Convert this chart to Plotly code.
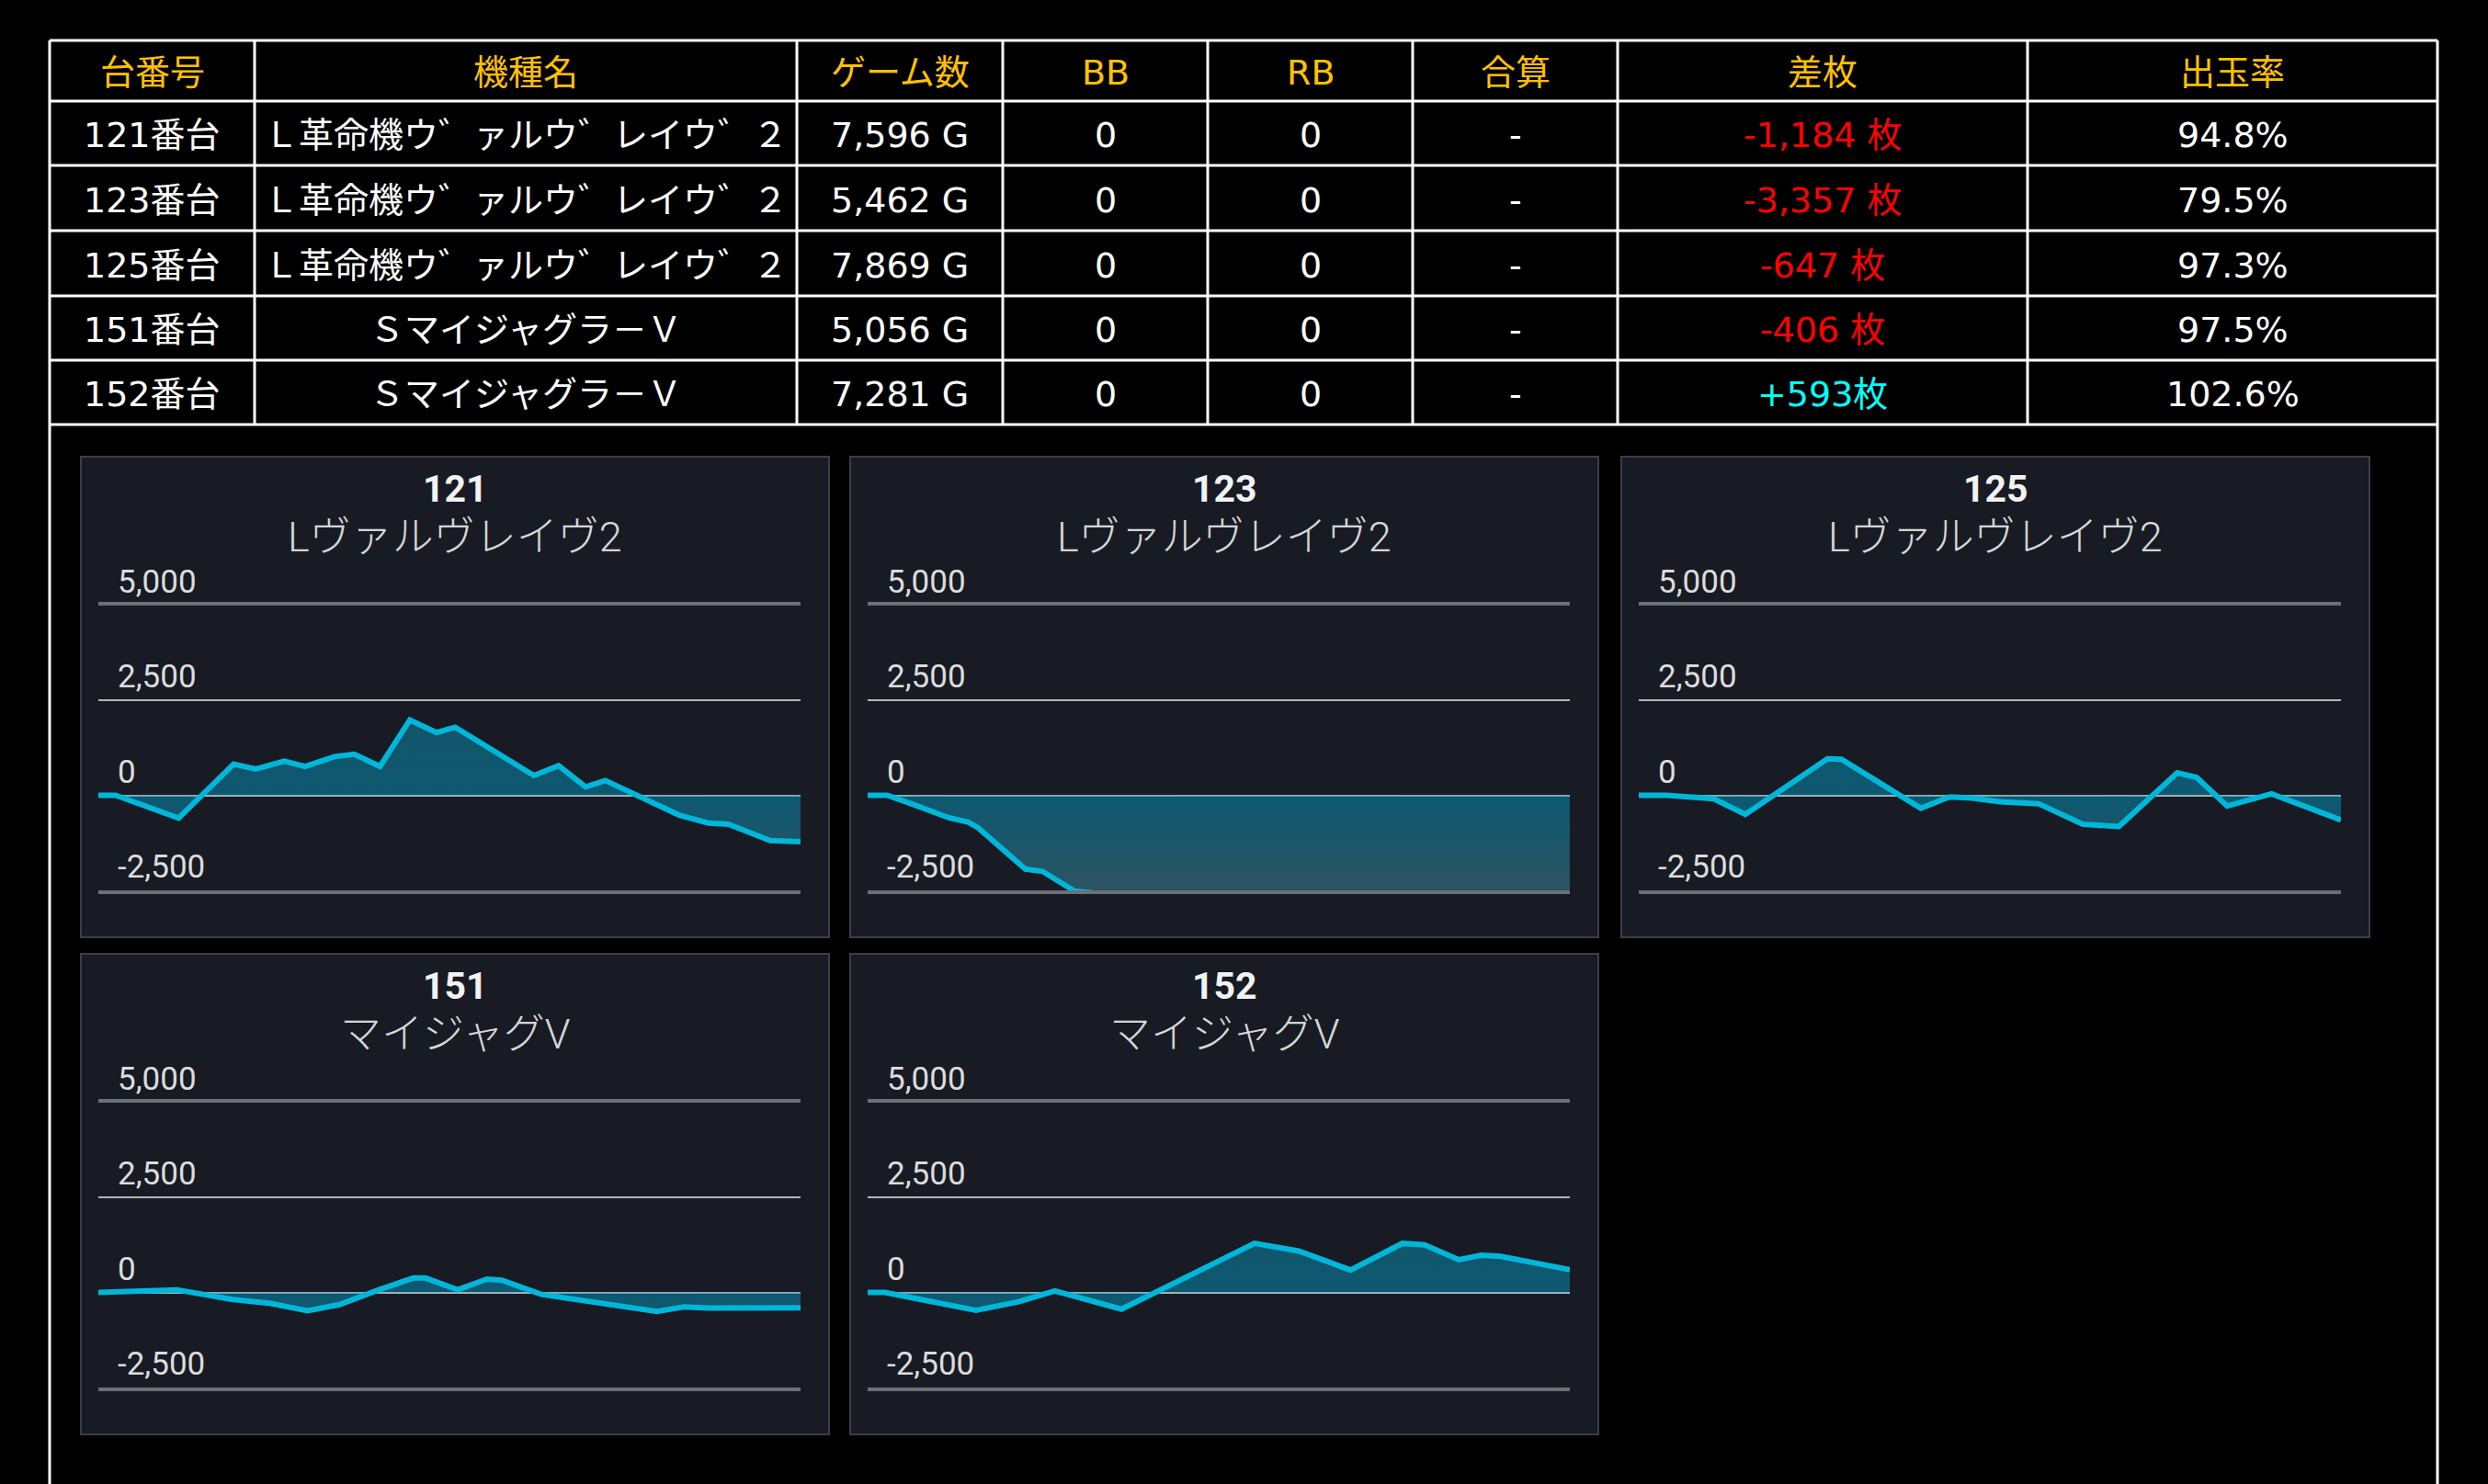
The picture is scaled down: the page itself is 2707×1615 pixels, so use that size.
import plotly.graph_objects as go

W, H = 2707, 1615

# ---------------- table data ----------------
headers = ["台番号", "機種名", "ゲーム数", "BB", "RB", "合算", "差枚", "出玉率"]
machine_no = ["121番台", "123番台", "125番台", "151番台", "152番台"]
machine_name = ["Ｌ革命機ウ゛ァルウ゛レイウ゛２", "Ｌ革命機ウ゛ァルウ゛レイウ゛２", "Ｌ革命機ウ゛ァルウ゛レイウ゛２",
                "Ｓマイジャグラ－Ｖ", "Ｓマイジャグラ－Ｖ"]
game_text = ["7,596 G", "5,462 G", "7,869 G", "5,056 G", "7,281 G"]
bb_count = ["0", "0", "0", "0", "0"]
rb_count = ["0", "0", "0", "0", "0"]
combined = ["-", "-", "-", "-", "-"]
diff_value = [-1184, -3357, -647, -406, 593]
diff_text = ["-1,184 枚", "-3,357 枚", "-647 枚", "-406 枚", "+593枚"]
payout = ["94.8%", "79.5%", "97.3%", "97.5%", "102.6%"]

# ---------------- chart data ----------------
panel_ids = ["121", "123", "125", "151", "152"]
panel_names = ["Lヴァルヴレイヴ2", "Lヴァルヴレイヴ2", "Lヴァルヴレイヴ2", "マイジャグV", "マイジャグV"]
total_games = [7596, 5462, 7869, 5056, 7281]

x121 = [0, 186, 868, 1464, 1704, 2013, 2236, 2556, 2769, 3046, 3370, 3658, 3860, 4712, 4978, 5271, 5484,
        6283, 6602, 6815, 7268, 7428, 7596]
y121 = [0, 0, -600, 820, 690, 900, 760, 1020, 1080, 760, 1980, 1650, 1790, 520, 780, 220, 390,
        -520, -730, -760, -1190, -1220, -1220]

x123 = [0, 153, 402, 632, 786, 862, 1227, 1361, 1610, 2600, 3800, 4700, 5462]
y123 = [0, 0, -300, -590, -710, -860, -1940, -2000, -2520, -2850, -3100, -3250, -3357]

x125 = [0, 311, 840, 1194, 2115, 2270, 3160, 3483, 3733, 4043, 4479, 4976, 5381, 6034, 6252, 6594, 7091, 7869]
y125 = [0, 0, -90, -500, 960, 950, -340, -40, -70, -170, -220, -760, -820, 590, 470, -280, 40, -650]

x151 = [0, 213, 567, 957, 1240, 1506, 1736, 2020, 2268, 2356, 2587, 2799, 2905, 3189, 3366, 4021, 4216, 4393, 5056]
y151 = [0, 20, 70, -180, -290, -480, -320, 70, 380, 380, 70, 350, 320, -50, -140, -500, -380, -410, -406]

x152 = [0, 179, 1124, 1558, 1942, 2632, 4011, 4471, 5007, 5544, 5774, 6131, 6361, 6566, 7281]
y152 = [0, 0, -470, -250, 40, -440, 1290, 1090, 590, 1290, 1250, 860, 980, 950, 600]

series_x = [x121, x123, x125, x151, x152]
series_y = [y121, y123, y125, y151, y152]

y_ticks = [5000, 2500, 0, -2500]
y_tick_text = ["5,000", "2,500", "0", "-2,500"]
y_min, y_max = -2500, 5000

# ---------------- layout geometry (pixels) ----------------
def fx(p):
    return p / W


def fy(p):
    return 1 - p / H


col_edges = [54, 277, 867, 1091, 1314, 1537, 1760, 2206, 2652]
row_edges = [44, 110, 180, 251, 322, 392, 462]

panel_left = [88, 925, 1764, 88, 925]
panel_top = [497, 497, 497, 1038, 1038]
PANEL_W, PANEL_H = 814, 523
PLOT_L, PLOT_R = 19, 783
PLOT_T, PLOT_B = 161.6, 472

TABLE_FONT = "DejaVu Sans, Noto Sans CJK JP"
CHART_FONT = "Roboto, Noto Sans CJK JP"

fig = go.Figure()
shapes = []
annotations = []

# ---------------- table ----------------
LINE = dict(color="#ffffff", width=3)
for yv in row_edges:
    shapes.append(dict(type="line", xref="paper", yref="paper",
                       x0=fx(col_edges[0]), x1=fx(col_edges[-1]), y0=fy(yv), y1=fy(yv), line=LINE))
for i, xv in enumerate(col_edges):
    bottom = H + 5 if i in (0, len(col_edges) - 1) else row_edges[-1]
    shapes.append(dict(type="line", xref="paper", yref="paper",
                       x0=fx(xv), x1=fx(xv), y0=fy(row_edges[0]), y1=fy(bottom), line=LINE))

col_centers = [(col_edges[i] + col_edges[i + 1]) / 2 for i in range(len(col_edges) - 1)]
row_centers = [(row_edges[i] + row_edges[i + 1]) / 2 + 2 for i in range(len(row_edges) - 1)]

for c, h in enumerate(headers):
    annotations.append(dict(text=h, xref="paper", yref="paper", x=fx(col_centers[c]), y=fy(row_centers[0]),
                            xanchor="center", yanchor="middle", showarrow=False,
                            font=dict(family=TABLE_FONT, size=38, color="#FFC000")))

columns = [machine_no, machine_name, game_text, bb_count, rb_count, combined, diff_text, payout]
for r in range(len(machine_no)):
    for c, col in enumerate(columns):
        color = "#ffffff"
        if c == 6:
            color = "#ff0000" if diff_value[r] < 0 else "#00ffff"
        annotations.append(dict(text=col[r], xref="paper", yref="paper",
                                x=fx(col_centers[c]), y=fy(row_centers[r + 1]),
                                xanchor="center", yanchor="middle", showarrow=False,
                                font=dict(family=TABLE_FONT, size=38, color=color)))

# ---------------- chart panels ----------------
layout_axes = {}
for i in range(len(panel_ids)):
    n = "" if i == 0 else str(i + 1)
    L, T = panel_left[i], panel_top[i]
    shapes.append(dict(type="rect", xref="paper", yref="paper", layer="below",
                       x0=fx(L), x1=fx(L + PANEL_W), y0=fy(T + PANEL_H), y1=fy(T),
                       fillcolor="#181b24", line=dict(color="#3b3e47", width=2)))
    cx = L + PANEL_W / 2
    annotations.append(dict(text="<b>" + panel_ids[i] + "</b>", xref="paper", yref="paper",
                            x=fx(cx), y=fy(T + 35), xanchor="center", yanchor="middle", showarrow=False,
                            font=dict(family=CHART_FONT, size=41, color="#f2f2f2")))
    annotations.append(dict(text=panel_names[i], xref="paper", yref="paper",
                            x=fx(cx), y=fy(T + 87), xanchor="center", yanchor="middle", showarrow=False,
                            font=dict(family=CHART_FONT, size=45, color="#d6d6d6", weight=300)))

    layout_axes["xaxis" + n] = dict(domain=[fx(L + PLOT_L), fx(L + PLOT_R)], anchor="y" + n,
                                    range=[0, total_games[i]], showgrid=False, zeroline=False,
                                    showticklabels=False, ticks="", showline=True, mirror=True,
                                    linecolor="#6d6f77", linewidth=3.5, fixedrange=True)
    layout_axes["yaxis" + n] = dict(domain=[fy(T + PLOT_B), fy(T + PLOT_T)], anchor="x" + n,
                                    range=[y_min, y_max], tickvals=[0, 2500], showticklabels=False,
                                    ticks="", showgrid=True, gridcolor="#b4b6bb", gridwidth=2,
                                    zeroline=False, showline=False, fixedrange=True)

    fig.add_trace(go.Scatter(
        x=series_x[i], y=series_y[i], xaxis="x" + n, yaxis="y" + n,
        mode="lines", line=dict(color="#00b6d9", width=6),
        fill="tozeroy",
        fillgradient=dict(type="vertical",
                          colorscale=[[0, "rgba(64,140,160,0.5)"], [0.5, "rgba(0,150,190,0.5)"],
                                      [1, "rgba(20,140,170,0.5)"]],
                          start=-2500, stop=2500),
        hoverinfo="skip", showlegend=False))

    for val, lab in zip(y_ticks, y_tick_text):
        annotations.append(dict(text=lab, xref="x" + n + " domain", yref="y" + n, x=0, y=val,
                                xanchor="left", yanchor="bottom", xshift=19, yshift=3, showarrow=False,
                                font=dict(family=CHART_FONT, size=35, color="#dcdcdc")))

fig.update_layout(
    width=W, height=H, margin=dict(l=0, r=0, t=0, b=0),
    paper_bgcolor="#000000", plot_bgcolor="rgba(0,0,0,0)",
    showlegend=False, shapes=shapes, annotations=annotations, **layout_axes)

fig.write_html("out.html", config={"displayModeBar": False},
               post_script="document.body.style.margin='0';document.body.style.overflow='hidden';"
                           "document.body.style.background='#000';")
